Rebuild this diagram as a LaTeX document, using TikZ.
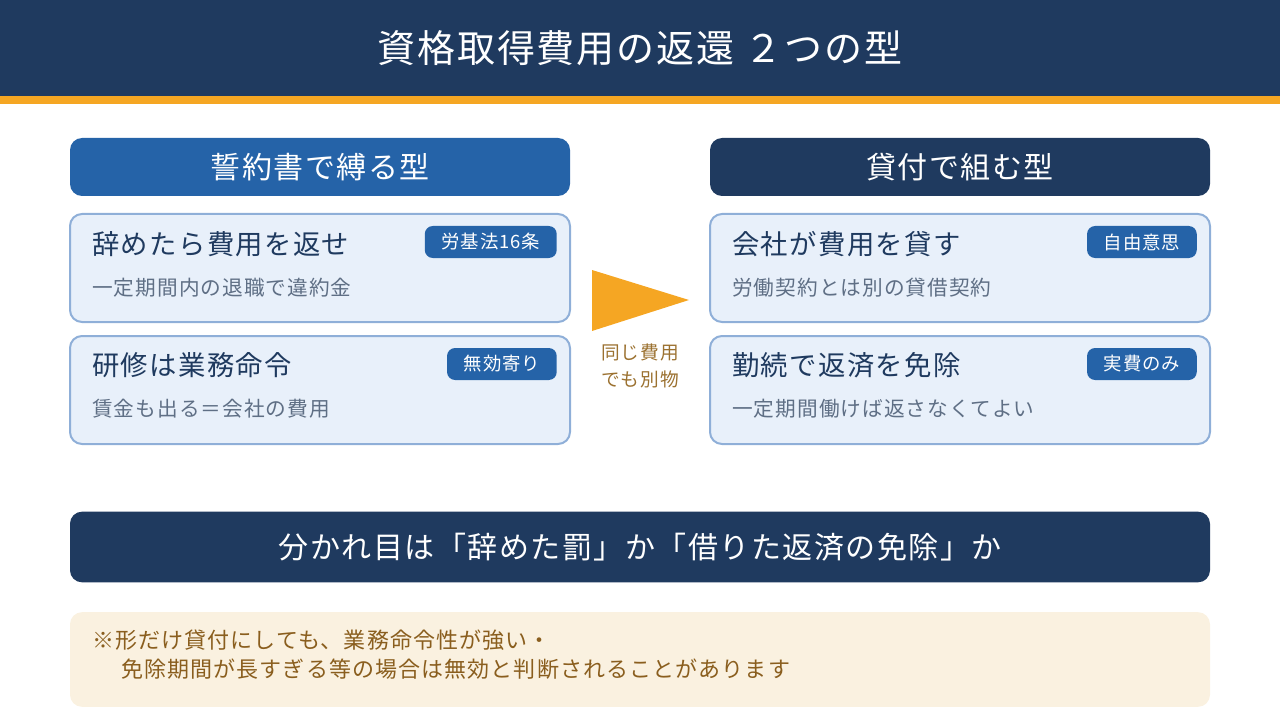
\documentclass[tikz,border=0pt]{standalone}
\usepackage{fontspec}
\setmainfont{Noto Sans CJK JP}[LetterSpace=5]
\definecolor{navy}{HTML}{1F3A5F}
\definecolor{midblue}{HTML}{2563A8}
\definecolor{amber}{HTML}{F5A623}
\definecolor{cardbg}{HTML}{E8F0FA}
\definecolor{cardline}{HTML}{8FAFD8}
\definecolor{subgray}{HTML}{5F6F85}
\definecolor{notebg}{HTML}{FAF1E0}
\definecolor{notebrown}{HTML}{8A5E1E}
\definecolor{midbrown}{HTML}{9B7130}
\begin{document}
\begin{tikzpicture}[x=0.75pt, y=-0.75pt,
            headbox/.style={rounded corners=9pt, minimum width=375pt, minimum height=43.5pt, text=white, font=\fontsize{22.5}{26}\selectfont},
            card/.style={draw=cardline, line width=1.5pt, fill=cardbg, rounded corners=9pt, minimum width=375pt, minimum height=81pt},
            cardtitle/.style={anchor=west, inner sep=0pt, text=navy, font=\fontsize{20.5}{24}\selectfont},
            cardsub/.style={anchor=west, inner sep=0pt, text=subgray, font=\fontsize{15.5}{18}\selectfont},
            tag/.style={anchor=east, fill=midblue, rounded corners=6pt, text=white, minimum height=24pt, inner xsep=12.5pt, inner ysep=0pt, font=\fontsize{13.8}{16}\selectfont}
        ]
            \useasboundingbox (0,0) rectangle (1280,720);
            % header
            \fill[navy] (0,0) rectangle (1280,96);
            \fill[amber] (0,96) rectangle (1280,104);
            \node[text=white, font=\fontsize{28.5}{33}\selectfont] (title) at (640,48) {資格取得費用の返還 ２つの型};
            % left column
            \node[headbox, fill=midblue] (pledge) at (320,167) {誓約書で縛る型};
            \node[card] (quit) at (320,268) {};
            \node[cardtitle] (quittitle) at (92,244) {辞めたら費用を返せ};
            \node[cardsub] (quitsub) at (92,288) {一定期間内の退職で違約金};
            \node[tag] (law) at (557,242) {労基法16条};
            \node[card] (train) at (320,390) {};
            \node[cardtitle] (traintitle) at (92,365) {研修は業務命令};
            \node[cardsub] (trainsub) at (92,409) {賃金も出る＝会社の費用};
            \node[tag] (invalid) at (557,364) {無効寄り};
            % right column
            \node[headbox, fill=navy] (loan) at (960,167) {貸付で組む型};
            \node[card] (lend) at (960,268) {};
            \node[cardtitle] (lendtitle) at (732,244) {会社が費用を貸す};
            \node[cardsub] (lendsub) at (732,288) {労働契約とは別の貸借契約};
            \node[tag] (will) at (1197,242) {自由意思};
            \node[card] (waive) at (960,390) {};
            \node[cardtitle] (waivetitle) at (732,365) {勤続で返済を免除};
            \node[cardsub] (waivesub) at (732,409) {一定期間働けば返さなくてよい};
            \node[tag] (actual) at (1197,364) {実費のみ};
            % middle arrow
            \fill[amber] (592,270) -- (592,331) -- (689,300) -- cycle;
            \node[align=center, text=midbrown, font=\fontsize{14}{20.5}\selectfont] (same) at (640,366) {同じ費用\\でも別物};
            % bottom
            \node[fill=navy, rounded corners=9pt, minimum width=855pt, minimum height=53pt, text=white, font=\fontsize{22.5}{27}\selectfont] (split) at (640,547) {分かれ目は「辞めた罰」か「借りた返済の免除」か};
            \node[fill=notebg, rounded corners=9pt, minimum width=855pt, minimum height=71pt] (note) at (640,659.5) {};
            \node[anchor=west, inner sep=0pt, text=notebrown, font=\fontsize{16.5}{20}\selectfont] (noteone) at (92,640) {※形だけ貸付にしても、業務命令性が強い・};
            \node[anchor=west, inner sep=0pt, text=notebrown, font=\fontsize{16.5}{20}\selectfont] (notetwo) at (121,669) {免除期間が長すぎる等の場合は無効と判断されることがあります};
        \end{tikzpicture}
\end{document}
